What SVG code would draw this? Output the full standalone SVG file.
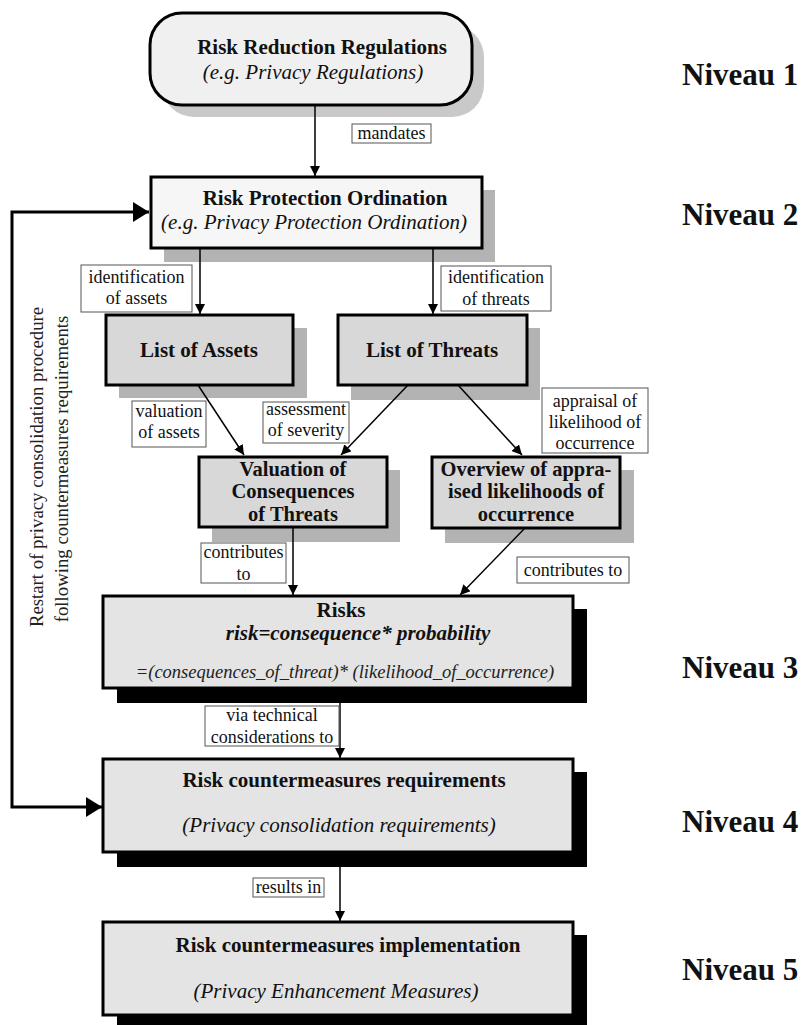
<svg xmlns="http://www.w3.org/2000/svg" width="804" height="1025" viewBox="0 0 804 1025">
  <defs>
    <marker id="arrow" viewBox="0 0 10 10" refX="10" refY="5" markerWidth="10" markerHeight="10" markerUnits="userSpaceOnUse" orient="auto">
      <path d="M0,0 L10,5 L0,10 z" fill="#000"/>
    </marker>
    <marker id="arrowBig" viewBox="0 0 16 20" refX="16" refY="10" markerWidth="16" markerHeight="20" markerUnits="userSpaceOnUse" orient="auto-start-reverse">
      <path d="M0,0 L16,10 L0,20 z" fill="#000"/>
    </marker>
    <style>
      .box { stroke: #000; stroke-width: 3; }
      .lvl1 { fill: #f0f0f0; }
      .lvl2 { fill: #f6f6f6; }
      .mid { fill: #d8d8d8; }
      .low { fill: #e4e4e4; }
      .shade-soft { fill: #c9c9c9; }
      .shade-grey { fill: #b3b3b3; }
      .shade-dark { fill: #000; }
      .title { font-family: "Liberation Serif", "Times New Roman", serif; font-weight: bold; font-size: 21px; fill: #111; text-anchor: middle; }
      .stack { font-family: "Liberation Serif", "Times New Roman", serif; font-weight: bold; font-size: 20.5px; fill: #111; text-anchor: middle; }
      .sub { font-family: "Liberation Serif", "Times New Roman", serif; font-style: italic; font-size: 21px; fill: #111; text-anchor: middle; }
      .formula { font-family: "Liberation Serif", "Times New Roman", serif; font-style: italic; font-weight: bold; font-size: 21px; fill: #111; text-anchor: middle; }
      .eq { font-family: "Liberation Serif", "Times New Roman", serif; font-style: italic; font-size: 18.5px; fill: #222; text-anchor: middle; }
      .tag { fill: #fff; stroke: #555; stroke-width: 1; }
      .tagtext { font-family: "Liberation Serif", "Times New Roman", serif; font-size: 18px; fill: #111; text-anchor: middle; }
      .note { font-family: "Liberation Serif", "Times New Roman", serif; font-size: 18.8px; fill: #222; text-anchor: middle; }
      .level { font-family: "Liberation Serif", "Times New Roman", serif; font-weight: bold; font-size: 31px; fill: #111; }
      .edge { fill: none; stroke: #000; stroke-width: 1.5; marker-end: url(#arrow); }
      .loop { fill: none; stroke: #000; stroke-width: 3; marker-start: url(#arrowBig); marker-end: url(#arrowBig); }
    </style>
  </defs>

  <rect width="804" height="1025" fill="#fff"/>

  <!-- Level 1 -->
  <g id="node-regulations">
    <rect class="shade-soft" x="162" y="25" width="322" height="92" rx="32"/>
    <rect class="box lvl1" x="150" y="13" width="322" height="92" rx="32"/>
    <text class="title" x="322" y="54">Risk Reduction Regulations</text>
    <text class="sub" x="313" y="79">(e.g. Privacy Regulations)</text>
  </g>

  <!-- Level 2 -->
  <g id="node-ordination">
    <rect class="shade-grey" x="164" y="190" width="331" height="72"/>
    <rect class="box lvl2" x="151" y="177" width="331" height="71"/>
    <text class="title" x="325" y="205">Risk Protection Ordination</text>
    <text class="sub" x="314" y="229">(e.g. Privacy Protection Ordination)</text>
  </g>

  <g id="node-assets">
    <rect class="shade-grey" x="119" y="328" width="188" height="70"/>
    <rect class="box mid" x="106" y="315" width="187" height="70"/>
    <text class="title" x="199" y="357">List of Assets</text>
  </g>

  <g id="node-threats">
    <rect class="shade-grey" x="351" y="328" width="189" height="72"/>
    <rect class="box mid" x="338" y="315" width="189" height="70"/>
    <text class="title" x="432" y="357">List of Threats</text>
  </g>

  <g id="node-consequences">
    <rect class="shade-grey" x="212" y="470" width="188" height="72"/>
    <rect class="box mid" x="199" y="457" width="188" height="70"/>
    <text class="stack" x="293" y="476">Valuation of</text>
    <text class="stack" x="293" y="498">Consequences</text>
    <text class="stack" x="293" y="521">of Threats</text>
  </g>

  <g id="node-likelihoods">
    <rect class="shade-grey" x="445" y="470" width="189" height="73"/>
    <rect class="box mid" x="432" y="457" width="188" height="71"/>
    <text class="stack" x="526" y="476">Overview of appra-</text>
    <text class="stack" x="526" y="498">ised likelihoods of</text>
    <text class="stack" x="526" y="521">occurrence</text>
  </g>

  <!-- Level 3 -->
  <g id="node-risks">
    <rect class="shade-dark" x="117" y="609" width="470" height="94"/>
    <rect class="box low" x="103" y="596" width="470" height="92"/>
    <text class="title" x="341" y="617">Risks</text>
    <text class="formula" x="358" y="640">risk=consequence* probability</text>
    <text class="eq" x="345" y="678">=(consequences_of_threat)* (likelihood_of_occurrence)</text>
  </g>

  <!-- Level 4 -->
  <g id="node-requirements">
    <rect class="shade-dark" x="117" y="772" width="470" height="95"/>
    <rect class="box low" x="103" y="759" width="470" height="93"/>
    <text class="title" x="344" y="787">Risk countermeasures requirements</text>
    <text class="sub" x="339" y="832">(Privacy consolidation requirements)</text>
  </g>

  <!-- Level 5 -->
  <g id="node-implementation">
    <rect class="shade-dark" x="117" y="935" width="470" height="95"/>
    <rect class="box low" x="103" y="922" width="470" height="93"/>
    <text class="title" x="348" y="952">Risk countermeasures implementation</text>
    <text class="sub" x="336" y="998">(Privacy Enhancement Measures)</text>
  </g>

  <!-- Connectors -->
  <g id="connectors">
    <path class="edge" d="M315,105 V176"/>
    <path class="edge" d="M200,248 V314"/>
    <path class="edge" d="M433,248 V314"/>
    <path class="edge" d="M198,385 L244,455"/>
    <path class="edge" d="M408,385 L341,455"/>
    <path class="edge" d="M458,385 L522,455"/>
    <path class="edge" d="M293,527 V595"/>
    <path class="edge" d="M525,528 L460,595"/>
    <path class="edge" d="M340,688 V758"/>
    <path class="edge" d="M340,852 V921"/>
    <path class="loop" d="M102,807 H12 V212 H149"/>
  </g>

  <!-- Connector labels -->
  <g id="labels">
    <rect class="tag" x="352" y="124" width="79" height="19"/>
    <text class="tagtext" x="391.5" y="139">mandates</text>

    <rect class="tag" x="81" y="265" width="111" height="47"/>
    <text class="tagtext" x="136.5" y="283">identification</text>
    <text class="tagtext" x="136.5" y="304">of assets</text>

    <rect class="tag" x="441" y="266" width="110" height="45"/>
    <text class="tagtext" x="496" y="283">identification</text>
    <text class="tagtext" x="496" y="305">of threats</text>

    <rect class="tag" x="132" y="401" width="74" height="46"/>
    <text class="tagtext" x="169" y="417">valuation</text>
    <text class="tagtext" x="169" y="438">of assets</text>

    <rect class="tag" x="263" y="402" width="86" height="41"/>
    <text class="tagtext" x="306" y="415">assessment</text>
    <text class="tagtext" x="306" y="436">of severity</text>

    <rect class="tag" x="542" y="388" width="106" height="65"/>
    <text class="tagtext" x="595" y="407">appraisal of</text>
    <text class="tagtext" x="595" y="428">likelihood of</text>
    <text class="tagtext" x="595" y="449">occurrence</text>

    <rect class="tag" x="201" y="543" width="85" height="40"/>
    <text class="tagtext" x="243.5" y="558">contributes</text>
    <text class="tagtext" x="243.5" y="580">to</text>

    <rect class="tag" x="517" y="557" width="112" height="26"/>
    <text class="tagtext" x="573" y="576">contributes to</text>

    <rect class="tag" x="205" y="706" width="134" height="40"/>
    <text class="tagtext" x="272" y="721">via technical</text>
    <text class="tagtext" x="272" y="743">considerations to</text>

    <rect class="tag" x="253" y="878" width="71" height="19"/>
    <text class="tagtext" x="288.5" y="893">results in</text>
  </g>

  <!-- Feedback loop caption -->
  <g id="loop-caption">
    <text class="note" transform="translate(43,467) rotate(-90)">Restart of privacy consolidation procedure</text>
    <text class="note" transform="translate(68,469) rotate(-90)">following countermeasures requirements</text>
  </g>

  <!-- Level captions -->
  <g id="levels">
    <text class="level" x="682" y="85">Niveau 1</text>
    <text class="level" x="682" y="225">Niveau 2</text>
    <text class="level" x="682" y="678">Niveau 3</text>
    <text class="level" x="682" y="832">Niveau 4</text>
    <text class="level" x="682" y="980">Niveau 5</text>
  </g>
</svg>
